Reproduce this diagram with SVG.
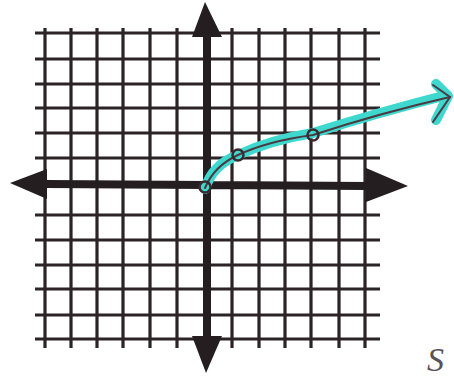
<svg xmlns="http://www.w3.org/2000/svg" width="454" height="377" viewBox="0 0 454 377">
<style>
.g{stroke:#2b2326;stroke-width:3.2;fill:none;stroke-linecap:butt}
.ax{stroke:#241e21;stroke-width:8;fill:none}
.ah{fill:#241e21}
.hl{stroke:#3fd8cf;stroke-width:10;fill:none;stroke-linecap:round;stroke-linejoin:round}
.cv{stroke:#4a3a42;stroke-width:2;fill:none;stroke-linecap:round}
.pt{stroke:#3a2a30;stroke-width:2.5;fill:none}
</style>
<rect width="454" height="377" fill="#ffffff"/>
<g id="grid" class="g">
<path d="M35 33H380M35 59H380M35 84H380M35 108H380M35 133H380M35 158H380M35 215H380M35 240H380M35 265H380M35 289H380M35 315H380M35 339H380"/>
<path d="M45 28V348M71 28V348M97 28V348M123 28V348M150 28V348M177 28V348M232 28V348M259 28V348M285 28V348M311 28V348M339 28V348M365 28V348"/>
</g>
<g id="axes">
<path class="ax" d="M207 36V337M46 184L367 186"/>
<polygon class="ah" points="205,2 192,37 222,37"/>
<polygon class="ah" points="206,373 192,336 222,336"/>
<polygon class="ah" points="10,183 47,169 47,199"/>
<polygon class="ah" points="408,186 366,168 366,202"/>
</g>
<g id="curve">
<path class="hl" d="M205 189Q212 165 238 155Q270 140 313 133Q380 112 447 95"/>
<path class="hl" d="M436 84L448 96L436 120" stroke-width="8"/>
<path class="cv" d="M205 188Q214 166 238 155Q268 141 313 135Q380 113 450 97"/>
<path class="cv" d="M433 85L450 97L433 122"/>
<circle class="pt" cx="205" cy="187" r="5.5"/>
<circle class="pt" cx="238" cy="155" r="5.5"/>
<circle class="pt" cx="313" cy="135" r="5.5"/>
</g>
<text x="427" y="371" font-family="Liberation Serif, serif" font-style="italic" font-size="34" fill="#5a5058">S</text>
</svg>
